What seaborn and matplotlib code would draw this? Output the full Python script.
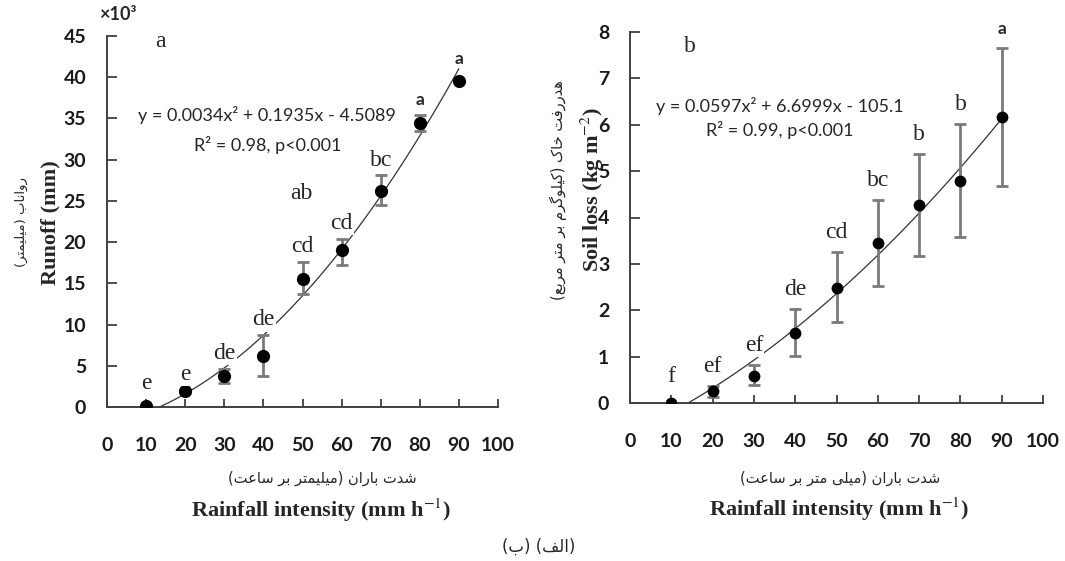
import numpy as np
import pandas as pd
import seaborn as sns
import matplotlib.pyplot as plt

########################################################################
# Data

# rainfall intensity (mm h-1)
rain = [10, 20, 30, 40, 50, 60, 70, 80, 90]

# (a) runoff (mm, x10^3): mean and the ends of the error bars
runoff_mean = [0.1, 1.9, 3.7, 6.2, 15.5, 19.0, 26.2, 34.4, 39.5]
runoff_lo = [0.1, 1.7, 2.9, 3.8, 13.7, 17.2, 24.5, 33.5, 39.5]
runoff_hi = [0.1, 2.1, 4.6, 8.7, 17.6, 20.4, 28.1, 35.4, 39.5]
runoff_letters = ['e', 'e', 'de', 'de', 'cd', 'cd', 'bc', 'a', 'a']

# (b) soil loss (kg m-2)
soil_mean = [0.0, 0.25, 0.59, 1.51, 2.48, 3.45, 4.27, 4.78, 6.16]
soil_lo = [0.0, 0.14, 0.38, 1.02, 1.75, 2.53, 3.18, 3.59, 4.68]
soil_hi = [0.0, 0.37, 0.83, 2.03, 3.25, 4.38, 5.37, 6.02, 7.65]
soil_letters = ['f', 'ef', 'ef', 'de', 'cd', 'bc', 'b', 'b', 'a']

########################################################################
# matplotlib does no Arabic shaping, so pick the presentation forms by hand
# (isolated, final, initial, medial)
FA_FORMS = {
    'ا': ('\uFE8D', '\uFE8E', None, None),
    'ب': ('\uFE8F', '\uFE90', '\uFE91', '\uFE92'),
    'ت': ('\uFE95', '\uFE96', '\uFE97', '\uFE98'),
    'خ': ('\uFEA5', '\uFEA6', '\uFEA7', '\uFEA8'),
    'د': ('\uFEA9', '\uFEAA', None, None),
    'ر': ('\uFEAD', '\uFEAE', None, None),
    'س': ('\uFEB1', '\uFEB2', '\uFEB3', '\uFEB4'),
    'ش': ('\uFEB5', '\uFEB6', '\uFEB7', '\uFEB8'),
    'ع': ('\uFEC9', '\uFECA', '\uFECB', '\uFECC'),
    'ف': ('\uFED1', '\uFED2', '\uFED3', '\uFED4'),
    'ل': ('\uFEDD', '\uFEDE', '\uFEDF', '\uFEE0'),
    'م': ('\uFEE1', '\uFEE2', '\uFEE3', '\uFEE4'),
    'ن': ('\uFEE5', '\uFEE6', '\uFEE7', '\uFEE8'),
    'ه': ('\uFEE9', '\uFEEA', '\uFEEB', '\uFEEC'),
    'و': ('\uFEED', '\uFEEE', None, None),
    'ک': ('\uFB8E', '\uFB8F', '\uFB90', '\uFB91'),
    'گ': ('\uFB92', '\uFB93', '\uFB94', '\uFB95'),
    'ی': ('\uFBFC', '\uFBFD', '\uFBFE', '\uFBFF'),
}

def shape_fa(text):
    out = []
    for i, c in enumerate(text):
        if c not in FA_FORMS:
            out.append(c)
            continue
        prev_c = text[i-1] if i > 0 else ''
        next_c = text[i+1] if i < len(text)-1 else ''
        link_prev = prev_c in FA_FORMS and FA_FORMS[prev_c][2] is not None
        link_next = FA_FORMS[c][2] is not None and next_c in FA_FORMS
        iso, fin, ini, med = FA_FORMS[c]
        if link_prev and link_next:
            out.append(med)
        elif link_prev:
            out.append(fin)
        elif link_next:
            out.append(ini)
        else:
            out.append(iso)
    # visual order is right to left, brackets get mirrored
    return ''.join(out)[::-1].translate(str.maketrans('()', ')('))

########################################################################
# Plotting

sns.set_style('ticks')
plt.rcParams['font.family'] = ['Lato', 'DejaVu Sans']
plt.rcParams['mathtext.fontset'] = 'stix'

serif = 'Liberation Serif'
fa_font = ['DejaVu Sans']
W, H = 1065, 561

fig = plt.figure(figsize=(W/100, H/100), dpi=100)
ax_a = fig.add_axes([107/W, 1-407/H, 391/W, 371/H])
ax_b = fig.add_axes([630/W, 1-403/H, 413/W, 371/H])

def draw_panel(ax, mean, lo, hi, letters, ymax, ystep, msize, capsize, letter_offset):
    df = pd.DataFrame({'rain': rain, 'mean': mean, 'lo': lo, 'hi': hi, 'letter': letters})
    # quadratic trend line
    sns.regplot(data=df, x='rain', y='mean', order=2, ci=None, scatter=False, ax=ax,
                line_kws=dict(color='#333333', lw=0.9, zorder=2))
    ax.errorbar(df['rain'], df['mean'], yerr=[df['mean']-df['lo'], df['hi']-df['mean']],
                fmt='none', ecolor='#7a7a7a', elinewidth=2, capsize=capsize, capthick=2, zorder=3)
    sns.scatterplot(data=df, x='rain', y='mean', ax=ax, color='black', s=msize**2,
                    edgecolor='black', linewidth=0, zorder=4)
    # significance letters, white box hides the trend line behind them
    for _, row in df.iterrows():
        top = max(row['hi'], row['mean'])
        if row['letter'] == 'a':
            kw = dict(fontsize=12.5, fontweight='bold', family='Lato')
        else:
            kw = dict(fontsize=17, family=serif)
        off = letter_offset + (5 if row['hi'] <= row['mean'] else 0)
        ax.annotate(row['letter'], (row['rain'], top), xytext=(0, off), textcoords='offset points',
                    ha='center', va='center', zorder=5,
                    bbox=dict(boxstyle='square,pad=0.05', fc='white', ec='none'), **kw)
    ax.set_xlim(0, 100)
    ax.set_ylim(0, ymax)
    ax.set_xticks(np.arange(0, 101, 10))
    ax.set_yticks(np.arange(0, ymax + 0.01, ystep))
    ax.yaxis.set_major_formatter(plt.FormatStrFormatter('%g'))
    ax.set_xlabel('')
    ax.set_ylabel('')
    for side in ['top', 'right']:
        ax.spines[side].set_visible(False)
    for side in ['left', 'bottom']:
        ax.spines[side].set_color('#404040')
        ax.spines[side].set_linewidth(1.4)
    ax.tick_params(axis='x', direction='in', length=6, width=1.3, color='#404040', pad=21.5,
                   labelsize=14)
    ax.tick_params(axis='y', direction='in', length=7, width=1.3, color='#404040', pad=15,
                   labelsize=14)
    for lab in ax.get_xticklabels() + ax.get_yticklabels():
        lab.set_fontweight('bold')
        lab.set_color('#1a1a1a')

draw_panel(ax_a, runoff_mean, runoff_lo, runoff_hi, runoff_letters, 45, 5, 9.5, 4, 11)
draw_panel(ax_b, soil_mean, soil_lo, soil_hi, soil_letters, 8, 1, 8.5, 4.5, 14)

# panel a annotations
ax_a.text(13.6, 44.3, 'a', family=serif, fontsize=17, ha='center', va='center')
ax_a.text(49.8, 25.9, 'ab', family=serif, fontsize=17, ha='center', va='center')
ax_a.text(41, 35.4, 'y = 0.0034x² + 0.1935x - 4.5089', fontsize=13, ha='center', va='center')
ax_a.text(41, 31.8, 'R² = 0.98, p<0.001', fontsize=13, ha='center', va='center')
fig.text(99/W, 1-15/H, '×10³', fontsize=13, fontweight='bold', ha='left', va='center')

# panel b annotations
ax_b.text(14.5, 7.68, 'b', family=serif, fontsize=17, ha='center', va='center')
ax_b.text(36.3, 6.41, 'y = 0.0597x² + 6.6999x - 105.1', fontsize=13, ha='center', va='center')
ax_b.text(36.3, 5.89, 'R² = 0.99, p<0.001', fontsize=13, ha='center', va='center')

# axis titles, Persian above English
fig.text(50/W, 1-223/H, 'Runoff (mm)', family=serif, fontsize=16, fontweight='bold',
         rotation=90, ha='center', va='center')
fig.text(21/W, 1-222/H, shape_fa('رواناب (میلیمتر)'), family=fa_font, fontsize=9.5,
         rotation=90, ha='center', va='center')
fig.text(592/W, 1-190/H, 'Soil loss (kg m$^{-2}$)', family=serif, fontsize=16, fontweight='bold',
         rotation=90, ha='center', va='center')
fig.text(558/W, 1-190/H, shape_fa('هدررفت خاک (کیلوگرم بر متر مربع)'), family=fa_font,
         fontsize=10.5, rotation=90, ha='center', va='center')

fig.text(322/W, 1-478/H, shape_fa('شدت باران (میلیمتر بر ساعت)'), family=fa_font, fontsize=10.5,
         ha='center', va='center')
fig.text(321/W, 1-510/H, 'Rainfall intensity (mm h$^{-1}$)', family=serif, fontsize=16,
         fontweight='bold', ha='center', va='center')
fig.text(840/W, 1-478/H, shape_fa('شدت باران (میلی متر بر ساعت)'), family=fa_font, fontsize=10.5,
         ha='center', va='center')
fig.text(839/W, 1-509/H, 'Rainfall intensity (mm h$^{-1}$)', family=serif, fontsize=16,
         fontweight='bold', ha='center', va='center')

fig.text(539/W, 1-547/H, shape_fa('(الف) (ب)'), family=fa_font, fontsize=12,
         ha='center', va='center')

fig.savefig('out.png', dpi=100, facecolor='white')
plt.close(fig)
